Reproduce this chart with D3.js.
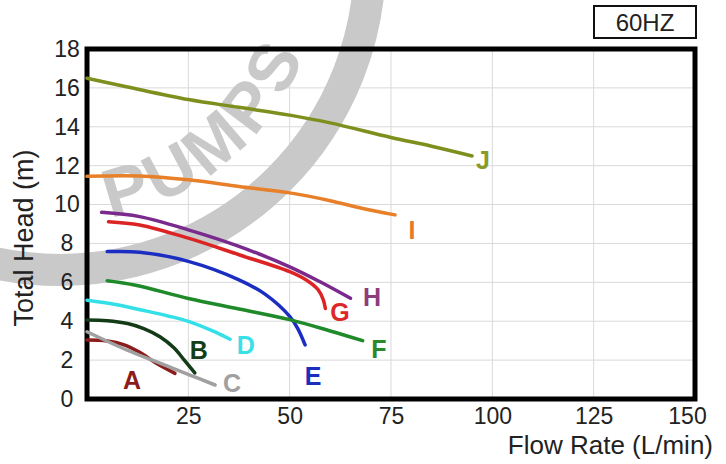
<!DOCTYPE html>
<html>
<head>
<meta charset="utf-8">
<script src="https://cdn.jsdelivr.net/npm/d3@7"></script>
<style>
  html, body { margin: 0; padding: 0; background: #fff; }
  svg { display: block; font-family: "Liberation Sans", Arial, sans-serif; }
</style>
</head>
<body>
<svg id="chart" width="726" height="464"></svg>
<script>
// ---- data ----
const xTicks = [25, 50, 75, 100, 125, 150];
const yTicks = [0, 2, 4, 6, 8, 10, 12, 14, 16, 18];
const seriesNames = ["A", "B", "C", "D", "E", "F", "G", "H", "I", "J"];
const seriesColors = ["#8b1c1c", "#123b16", "#a0a0a0", "#33e0e8", "#1c2ec2", "#1f8a2a", "#dd2424", "#7a2a8c", "#e8802a", "#7f8f1e"];
const labelColors  = ["#8b1c1c", "#153d18", "#a0a0a0", "#38e0e8", "#1a2ec0", "#2a8a2a", "#dc2828", "#8e3c7e", "#e8782a", "#8a9a26"];

const seriesA = [[0,3.03],[5,2.98],[9,2.8],[13,2.4],[17,1.85],[21.7,1.32]];
const seriesB = [[0,4.06],[5,4.03],[10,3.88],[14,3.62],[18,3.2],[21.5,2.62],[24,2.0],[26.6,1.34]];
const seriesC = [[0,3.46],[9.8,2.52],[18,1.84],[25.4,1.23],[31.6,0.72]];
const seriesD = [[0,5.08],[7,4.86],[14.7,4.52],[20,4.27],[25.2,3.98],[31,3.5],[35.3,3.07]];
const seriesE = [[5,7.58],[13,7.55],[25,7.08],[37.5,6.13],[44,5.38],[50,4.25],[52,3.62],[53.8,2.78]];
const seriesF = [[5,6.08],[12,5.85],[25,5.17],[37.5,4.63],[50,4.08],[60,3.5],[68,3.0]];
const seriesG = [[5.3,9.12],[13,8.95],[25,8.27],[37.5,7.42],[50,6.55],[54,6.13],[57,5.62],[58.3,5.1],[58.8,4.65]];
const seriesH = [[3.6,9.6],[13,9.38],[25,8.7],[37.5,7.85],[50,6.8],[57.5,6.03],[65,5.18]];
const seriesI = [[0,11.45],[13,11.47],[25,11.27],[37.5,10.93],[50,10.6],[60,10.2],[68,9.8],[76,9.47]];
const seriesJ = [[0,16.5],[10,16.05],[25,15.4],[37.5,15.0],[50,14.6],[60,14.2],[75,13.45],[85,13.0],[95,12.5]];
const allSeries = [seriesA, seriesB, seriesC, seriesD, seriesE, seriesF, seriesG, seriesH, seriesI, seriesJ];

// label anchor positions (data units)
const labelPos = [[11.1,0.98],[27.6,2.52],[35.8,0.82],[39.2,2.78],[55.8,1.18],[72.0,2.57],[62.4,4.48],[70.3,5.25],[80.2,8.7],[97.7,12.3]];

const xTitle = "Flow Rate (L/min)";
const yTitle = "Total Head (m)";
const badge = "60HZ";
const watermark = "PUMPS";

// ---- layout ----
const svg = d3.select("#chart");
const x = d3.scaleLinear().domain([0, 150]).range([87, 695]);
const y = d3.scaleLinear().domain([0, 18]).range([399, 49]);

// grid
const grid = svg.append("g");
grid.selectAll("line.v").data(xTicks.slice(0, -1)).join("line")
  .attr("x1", d => x(d)).attr("x2", d => x(d))
  .attr("y1", y(18)).attr("y2", y(0))
  .attr("stroke", "#d9d9d9").attr("stroke-width", 1);
grid.selectAll("line.h").data(yTicks.slice(1, -1)).join("line")
  .attr("x1", x(0)).attr("x2", x(150))
  .attr("y1", d => y(d)).attr("y2", d => y(d))
  .attr("stroke", "#d9d9d9").attr("stroke-width", 1);

// watermark
const wm = svg.append("g");
const cx = 60, cy = -40;
wm.append("circle").attr("cx", cx).attr("cy", cy).attr("r", 310)
  .attr("fill", "none").attr("stroke", "#c9c9c9").attr("stroke-width", 32);
const r = 262, a0 = 82 * Math.PI / 180, a1 = 0;
wm.append("path").attr("id", "wmPath").attr("fill", "none")
  .attr("d", `M${cx + r * Math.cos(a0)},${cy + r * Math.sin(a0)} A${r},${r} 0 0 0 ${cx + r * Math.cos(a1)},${cy + r * Math.sin(a1)}`);
wm.append("text")
  .attr("font-size", 68).attr("font-weight", "bold").attr("fill", "#c9c9c9")
  .attr("letter-spacing", 5)
  .append("textPath").attr("href", "#wmPath").attr("startOffset", 14)
  .text(watermark);

// frame
svg.append("rect")
  .attr("x", x(0)).attr("y", y(18))
  .attr("width", x(150) - x(0)).attr("height", y(0) - y(18))
  .attr("fill", "none").attr("stroke", "#000").attr("stroke-width", 5);

// axes
const xAxis = svg.append("g").attr("transform", `translate(0,${y(0)})`)
  .call(d3.axisBottom(x).tickValues(xTicks).tickSize(0).tickPadding(9).tickFormat(d3.format("d")));
xAxis.select(".domain").remove();
xAxis.selectAll("text").attr("font-size", 23).attr("fill", "#222").attr("font-family", "Liberation Sans, Arial, sans-serif");
xAxis.selectAll(".tick").filter(d => d === 150).select("text").attr("dx", -8);

const yAxis = svg.append("g").attr("transform", `translate(${x(0)},0)`)
  .call(d3.axisLeft(y).tickValues(yTicks).tickSize(0).tickFormat(d3.format("d")));
yAxis.select(".domain").remove();
yAxis.selectAll("text").attr("font-size", 23).attr("fill", "#222")
  .attr("text-anchor", "middle").attr("x", -20).attr("font-family", "Liberation Sans, Arial, sans-serif");

// curves
const line = d3.line().x(d => x(d[0])).y(d => y(d[1])).curve(d3.curveCatmullRom.alpha(0.5));
svg.append("g").selectAll("path").data(allSeries).join("path")
  .attr("d", line)
  .attr("fill", "none")
  .attr("stroke", (d, i) => seriesColors[i])
  .attr("stroke-width", 3.5)
  .attr("stroke-linecap", "round");

// labels
svg.append("g").selectAll("text").data(seriesNames).join("text")
  .attr("x", (d, i) => x(labelPos[i][0]))
  .attr("y", (d, i) => y(labelPos[i][1]))
  .attr("dy", "0.36em")
  .attr("text-anchor", "middle")
  .attr("font-size", 25).attr("font-weight", "bold")
  .attr("fill", (d, i) => labelColors[i])
  .text(d => d);

// titles
svg.append("text").attr("x", 713).attr("y", 454).attr("text-anchor", "end")
  .attr("font-size", 26).attr("fill", "#222").text(xTitle);
svg.append("text").attr("transform", "translate(33,238) rotate(-90)")
  .attr("text-anchor", "middle").attr("font-size", 27).attr("fill", "#222").text(yTitle);

// badge
svg.append("rect").attr("x", 594).attr("y", 6).attr("width", 102).attr("height", 32)
  .attr("fill", "#fff").attr("stroke", "#111").attr("stroke-width", 2);
svg.append("text").attr("x", 645).attr("y", 22).attr("dy", "0.36em").attr("text-anchor", "middle")
  .attr("font-size", 24).attr("fill", "#222").text(badge);
</script>
</body>
</html>
